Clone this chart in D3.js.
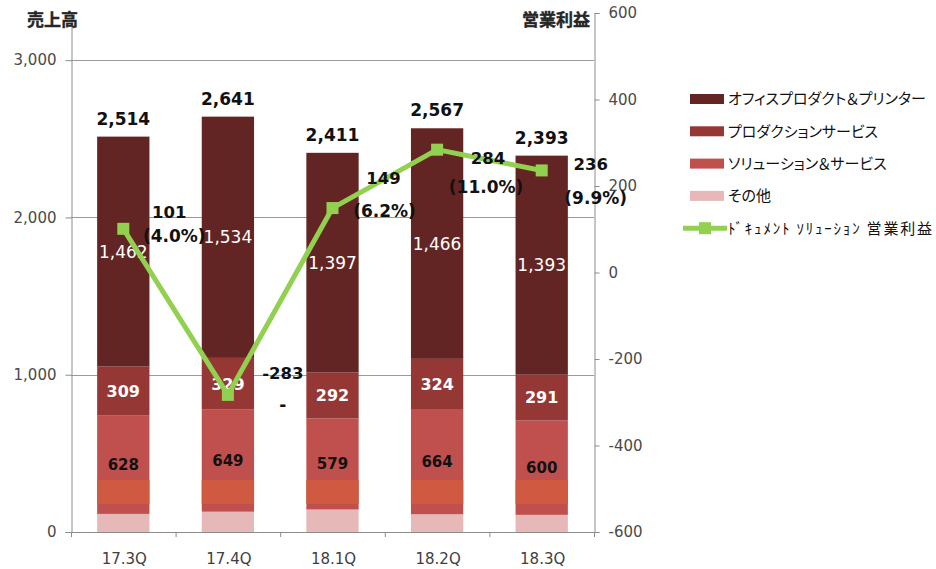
<!DOCTYPE html>
<html><head><meta charset="utf-8">
<script src="https://cdn.jsdelivr.net/npm/d3@7"></script>
<style>
html,body{margin:0;padding:0;background:#fff;}
svg{display:block;}
text{font-family:"DejaVu Sans","Noto Sans CJK JP",sans-serif;}
.jp{font-family:"Noto Sans CJK JP","DejaVu Sans",sans-serif;}
.palt{font-feature-settings:"palt" 1;}
</style></head>
<body>
<svg id="chart" width="936" height="569"></svg>
<script>
// ---- data ----
const categories = ["17.3Q","17.4Q","18.1Q","18.2Q","18.3Q"];
const totals     = [2514, 2641, 2411, 2567, 2393];
const office     = [1462, 1534, 1397, 1466, 1393];
const production = [309, 329, 292, 324, 291];
const solutions  = [628, 649, 579, 664, 600];
const other      = [115, 129, 143, 113, 109];
const profit     = [101, -283, 149, 284, 236];
const profitPct  = ["(4.0%)", "-", "(6.2%)", "(11.0%)", "(9.9%)"];
const overlayBand = [178, 331];           // darker band seen inside the bars
const leftTicks  = [0, 1000, 2000, 3000];
const rightTicks = [-600, -400, -200, 0, 200, 400, 600];
const seriesNames = ["オフィスプロダクト＆プリンター","プロダクションサービス","ソリューション＆サービス","その他"];
const lineName = "ﾄﾞｷｭﾒﾝﾄ ｿﾘｭｰｼｮﾝ 営業利益";
const leftTitle = "売上高", rightTitle = "営業利益";

// ---- layout / style ----
const colors = {office:"#632523", production:"#953735", solutions:"#C0504D", other:"#E6B9B8", band:"#CF5941", line:"#92D050", axis:"#8C8C8C", grid:"#9A9A9A"};
const pL = 71, pR = 594, pT = 13, pB = 532;
// manual offsets of the line's data labels (value line, pct line) from each point
const labelOffsets = [
  {v:[46,-17], p:[51,7]},
  {v:[55,-22], p:[55,10]},
  {v:[51,-30], p:[52,3]},
  {v:[51,8],   p:[49,37]},
  {v:[49,-6],  p:[54,27]}
];
const fmtComma = d3.format(",");
const fmtInt = d => String(d);   // plain hyphen-minus as in the reference

const svg = d3.select("#chart");
const x = d3.scaleBand().domain(categories).range([pL, pR]).paddingInner(0.5).paddingOuter(0.25);
const yL = d3.scaleLinear().domain([0, 3300]).range([pB, pT]);
const yR = d3.scaleLinear().domain([-600, 600]).range([pB, pT]);

// gridlines
svg.append("g").selectAll("line").data(leftTicks.filter(d=>d>0)).join("line")
  .attr("x1", pL).attr("x2", pR).attr("y1", d=>Math.round(yL(d))+0.5).attr("y2", d=>Math.round(yL(d))+0.5)
  .attr("stroke", colors.grid).attr("stroke-width", 1);

// stacked bars
const rows = categories.map((c,i)=>({c, parts:[
  {k:"other", v:other[i]}, {k:"solutions", v:solutions[i]}, {k:"production", v:production[i]}, {k:"office", v:office[i]}
]}));
const barsG = svg.append("g");
rows.forEach((r,i)=>{
  let acc = 0;
  r.parts.forEach(p=>{ p.y0 = acc; acc += p.v; p.y1 = acc; });
  barsG.selectAll(null).data(r.parts).enter().append("rect")
    .attr("x", x(r.c)).attr("width", x.bandwidth())
    .attr("y", d=>yL(d.y1)).attr("height", d=>yL(d.y0)-yL(d.y1))
    .attr("fill", d=>colors[d.k]);
  barsG.append("rect").attr("x", x(r.c)).attr("width", x.bandwidth())
    .attr("y", yL(overlayBand[1])).attr("height", yL(overlayBand[0])-yL(overlayBand[1]))
    .attr("fill", colors.band);
});

// axes
const axL = svg.append("g").attr("transform", `translate(${pL+0.5},0)`)
  .call(d3.axisLeft(yL).tickValues(leftTicks).tickFormat(fmtComma).tickSizeOuter(0).tickSize(6).tickPadding(9));
const axR = svg.append("g").attr("transform", `translate(${pR+0.5},0)`)
  .call(d3.axisRight(yR).tickValues(rightTicks).tickFormat(fmtInt).tickSizeOuter(0).tickSize(5).tickPadding(9));
[axL, axR].forEach(a=>{
  a.select(".domain").attr("stroke", colors.axis);
  a.selectAll(".tick line").attr("stroke", colors.axis);
  a.selectAll(".tick text").attr("fill", "#4a4a4a").style("font-size","15px").style("font-family","DejaVu Sans");
});
// bottom axis
svg.append("line").attr("x1", pL).attr("x2", pR+1).attr("y1", pB+0.5).attr("y2", pB+0.5).attr("stroke", colors.axis);
svg.append("g").selectAll("line").data(d3.range(categories.length+1)).join("line")
  .attr("x1", i=>pL+0.5+i*(pR-pL)/categories.length).attr("x2", i=>pL+0.5+i*(pR-pL)/categories.length)
  .attr("y1", pB).attr("y2", pB+5).attr("stroke", colors.axis);
svg.append("g").selectAll("text").data(categories).join("text")
  .attr("x", d=>x(d)+x.bandwidth()/2+1).attr("y", 564).attr("text-anchor","middle")
  .attr("fill","#404040").style("font-size","15px").text(d=>d);

// axis titles
svg.append("text").attr("class","jp").attr("x", 27).attr("y", 26).style("font-size","17px").style("font-weight","bold")
  .attr("fill","#262626").attr("stroke","#262626").attr("stroke-width",0.4).text(leftTitle);
svg.append("text").attr("class","jp").attr("x", 590).attr("y", 26).attr("text-anchor","end").style("font-size","17px").style("font-weight","bold")
  .attr("fill","#262626").attr("stroke","#262626").attr("stroke-width",0.4).text(rightTitle);

// bar segment labels
rows.forEach((r,i)=>{
  const cx = x(r.c)+x.bandwidth()/2;
  const [o, s, pr, of] = r.parts;
  svg.append("text").attr("x", cx).attr("y", (yL(of.y0)+yL(of.y1))/2).attr("dy","0.36em").attr("text-anchor","middle")
    .attr("fill","#fff").style("font-size","17px").text(fmtComma(of.v));
  svg.append("text").attr("x", cx).attr("y", (yL(pr.y0)+yL(pr.y1))/2).attr("dy","0.36em").attr("text-anchor","middle")
    .attr("fill","#fff").style("font-size","16px").style("font-weight","bold").text(fmtComma(pr.v));
  svg.append("text").attr("x", cx).attr("y", (yL(s.y0)+yL(s.y1))/2).attr("dy","0.36em").attr("text-anchor","middle")
    .attr("fill","#111").style("font-size","15px").style("font-weight","bold").text(fmtComma(s.v));
  svg.append("text").attr("x", cx).attr("y", yL(totals[i])-12).attr("text-anchor","middle")
    .attr("fill","#111").style("font-size","17px").style("font-weight","bold").text(fmtComma(totals[i]));
});

// profit line
const pts = categories.map((c,i)=>[x(c)+x.bandwidth()/2, yR(profit[i])]);
svg.append("path").attr("d", d3.line()(pts)).attr("fill","none").attr("stroke", colors.line).attr("stroke-width", 5).attr("stroke-linejoin","round");
svg.append("g").selectAll("rect").data(pts).join("rect")
  .attr("x", d=>d[0]-6).attr("y", d=>d[1]-6).attr("width", 12).attr("height", 12).attr("fill", colors.line);

// profit labels
pts.forEach((p,i)=>{
  const off = labelOffsets[i];
  svg.append("text").attr("x", p[0]+off.v[0]).attr("y", p[1]+off.v[1]).attr("dy","0.36em").attr("text-anchor","middle")
    .attr("fill","#111").style("font-size","16.5px").style("font-weight","bold").text(fmtInt(profit[i]));
  svg.append("text").attr("x", p[0]+off.p[0]).attr("y", p[1]+off.p[1]).attr("dy","0.36em").attr("text-anchor","middle")
    .attr("fill","#111").style("font-size","17px").style("font-weight","bold").text(profitPct[i]);
});

// legend
const lgX = 690, lgY = 99, lgStep = 32.3;
const barKeys = ["office","production","solutions","other"];
seriesNames.forEach((n,i)=>{
  const yy = lgY + i*lgStep;
  svg.append("rect").attr("x", lgX).attr("y", yy-5).attr("width", 34).attr("height", 10).attr("fill", colors[barKeys[i]]);
  svg.append("text").attr("class","jp palt").attr("x", 728).attr("y", yy).attr("dy","0.36em")
    .style("font-size", "15px").attr("fill","#111").text(n);
});
{
  const yy = lgY + 4*lgStep;
  svg.append("line").attr("x1", 683).attr("x2", 727).attr("y1", yy).attr("y2", yy).attr("stroke", colors.line).attr("stroke-width", 5);
  svg.append("rect").attr("x", 699).attr("y", yy-6).attr("width", 12).attr("height", 12).attr("fill", colors.line);
  svg.append("text").attr("class","jp").attr("x", 728).attr("y", yy).attr("dy","0.36em")
    .style("font-size","15px").attr("fill","#111").attr("textLength", 204).attr("lengthAdjust","spacing").text(lineName);
}
</script>
</body></html>
